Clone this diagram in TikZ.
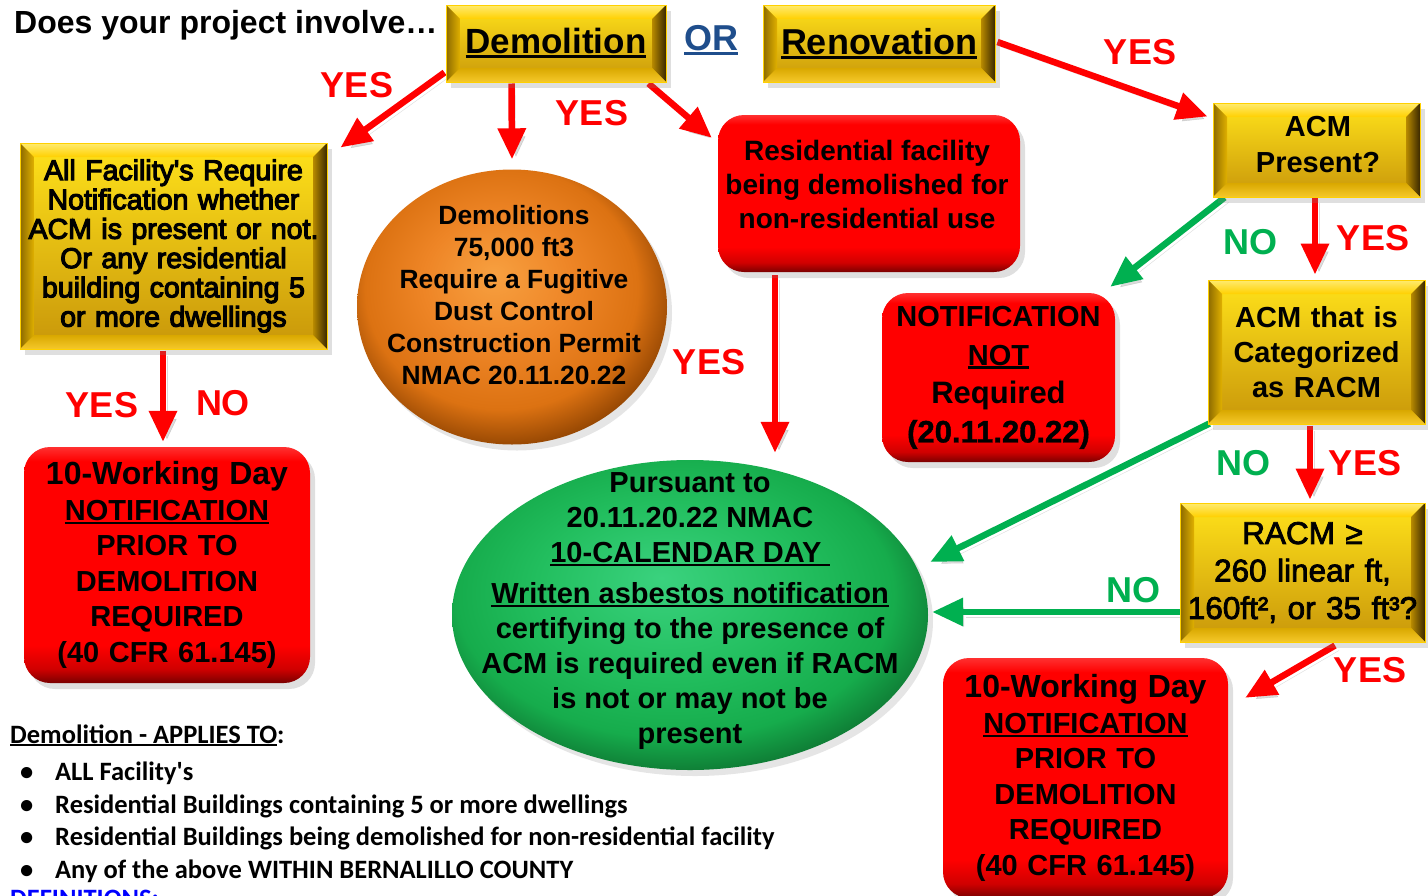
\documentclass[tikz,border=0pt]{standalone}
\usepackage{fontspec}
\setmainfont{Liberation Sans}
\newfontfamily\heavyfont{Liberation Sans}[FakeBold=2.5]
\newfontfamily\heavierfont{Liberation Sans}[FakeBold=4]
\newfontfamily\mediumfont{Liberation Sans}[FakeBold=1.2]
\newfontfamily\calib{Carlito}
\usetikzlibrary{calc,shadows,arrows.meta,shapes.geometric}
\pgfdeclarelayer{back}
\pgfdeclarelayer{bg}
\pgfsetlayers{back,bg,main}

\definecolor{arrred}{HTML}{FF0000}
\definecolor{arrgreen}{HTML}{00B050}
\definecolor{orblue}{HTML}{1F4E8C}
\definecolor{gface1}{HTML}{FFE21A}
\definecolor{gface2}{HTML}{C8960A}
\definecolor{gtop1}{HTML}{FFEB70}
\definecolor{gtop2}{HTML}{FFD000}
\definecolor{gleft1}{HTML}{8C6A00}
\definecolor{gleft2}{HTML}{E0B000}
\definecolor{gright1}{HTML}{B88A00}
\definecolor{gright2}{HTML}{3A2800}
\definecolor{gbot1}{HTML}{D9A800}
\definecolor{gbot2}{HTML}{F5C82A}
\definecolor{rdk}{HTML}{7A0000}
\definecolor{rmid}{HTML}{D00000}
\definecolor{rmain}{HTML}{FF0000}
\definecolor{rtop}{HTML}{FF3030}
\definecolor{oA}{HTML}{F7A040}
\definecolor{oB}{HTML}{EE8526}
\definecolor{oC}{HTML}{DC7212}
\definecolor{oD}{HTML}{8A4000}
\definecolor{gA}{HTML}{3AD27E}
\definecolor{gB}{HTML}{22BE5E}
\definecolor{gC}{HTML}{16AC4C}
\definecolor{gD}{HTML}{0C6A2C}

\pgfdeclareverticalshading{glossred}{100bp}{color(0bp)=(rdk); color(25bp)=(rdk); color(28bp)=(rmid); color(33bp)=(rmain); color(72bp)=(rmain); color(75bp)=(rtop); color(100bp)=(rtop)}
\pgfdeclareradialshading{orangeball}{\pgfpoint{-3bp}{6bp}}{color(0bp)=(oA); color(12bp)=(oB); color(22bp)=(oC); color(29bp)=(oD); color(50bp)=(oD)}
\pgfdeclareradialshading{greenball}{\pgfpoint{-3bp}{6bp}}{color(0bp)=(gA); color(14bp)=(gB); color(23bp)=(gC); color(30bp)=(gD); color(50bp)=(gD)}

\newcommand{\ulx}[1]{\setbox0\hbox{#1}\leavevmode\rlap{\rule[-0.13em]{\wd0}{0.09em}}\box0}

\tikzset{
  gold/.style={rectangle, inner sep=0pt, draw=gtop2, line width=1pt,
    top color=gface1, bottom color=gface2, align=center,
    drop shadow={shadow xshift=5pt, shadow yshift=-6pt, opacity=0.25},
    path picture={
      \coordinate (q1) at (path picture bounding box.north west);
      \coordinate (q2) at (path picture bounding box.north east);
      \coordinate (q3) at (path picture bounding box.south east);
      \coordinate (q4) at (path picture bounding box.south west);
      \coordinate (i1) at ([xshift=14pt,yshift=-14pt]q1);
      \coordinate (i2) at ([xshift=-14pt,yshift=-14pt]q2);
      \coordinate (i3) at ([xshift=-14pt,yshift=14pt]q3);
      \coordinate (i4) at ([xshift=14pt,yshift=14pt]q4);
      \shade[top color=gtop1, bottom color=gtop2] (q1)--(q2)--(i2)--(i1)--cycle;
      \shade[left color=gleft1, right color=gleft2] (q1)--(i1)--(i4)--(q4)--cycle;
      \shade[left color=gright1, right color=gright2] (q2)--(q3)--(i3)--(i2)--cycle;
      \shade[top color=gbot1, bottom color=gbot2] (q4)--(i4)--(i3)--(q3)--cycle;
    }},
  redbox/.style={rectangle, rounded corners=26pt, inner sep=0pt, shading=glossred, align=center,
    drop shadow={shadow xshift=5pt, shadow yshift=-6pt, opacity=0.25}},
  ball/.style={ellipse, inner sep=0pt, drop shadow={shadow xshift=5pt, shadow yshift=-6pt, opacity=0.2}},
  arr/.style={line width=6.5pt, -{Triangle[width=27pt,length=31pt]},
    preaction={draw=black!70, opacity=0.2, transform canvas={xshift=4pt,yshift=-5pt}}},
  redarr/.style={arr, draw=arrred},
  greenarr/.style={arr, draw=arrgreen},
  yes/.style={font=\fontsize{36}{40}\selectfont\bfseries, text=arrred, inner sep=0pt},
  no/.style={font=\fontsize{36}{40}\selectfont\bfseries, text=arrgreen, inner sep=0pt},
  bul/.style={anchor=base west, inner sep=0pt, font=\calib\bfseries\fontsize{26.5}{30}\selectfont},
}

\begin{document}
\begin{tikzpicture}[x=1pt,y=-1pt]
\begin{pgfonlayer}{back}
\fill[white] (0,0) rectangle (1428,895);
\end{pgfonlayer}
\useasboundingbox (0,0) rectangle (1428,895);

% title
\node[anchor=west, inner sep=0pt, font=\fontsize{32}{36}\selectfont\bfseries] (title) at (14,25) {Does your project involve…};

% top boxes
\node[gold, minimum width=220pt, minimum height=77pt, font=\fontsize{35}{40}\selectfont\bfseries] (demo) at (556,43.5) {\ulx{Demolition}};
\node[inner sep=0pt, font=\fontsize{36}{40}\selectfont\bfseries, text=orblue] (or) at (711,40) {\ulx{OR}};
\node[gold, minimum width=232pt, minimum height=77pt, font=\fontsize{36}{40}\selectfont\bfseries] (reno) at (879,43.5) {\ulx{Renovation}};

% left yellow box
\node[gold, minimum width=307pt, minimum height=206pt, text width=300pt, font=\heavierfont\fontsize{28.5}{29.3}\selectfont] (allfac) at (173.5,246)
  {All Facility{\char"27}s Require\\Notification whether\\ACM is present or not.\\Or any residential\\building containing 5\\or more dwellings};

% orange ball
\node[ball, shading=orangeball, minimum width=310pt, minimum height=275pt] (orange) at (512,307) {};
\node[align=center, inner sep=0pt, font=\fontsize{26.4}{32}\selectfont\bfseries] (orangetxt) at (514,295)
  {Demolitions\\75,000 ft3\\Require a Fugitive\\Dust Control\\Construction Permit\\NMAC 20.11.20.22};

% residential red box
\node[redbox, minimum width=302pt, minimum height=157pt] (resid) at (869,193.5) {};
\node[align=center, inner sep=0pt, font=\fontsize{28}{34}\selectfont\bfseries] (residtxt) at (867,184)
  {Residential facility\\being demolished for\\non-residential use};

% ACM present
\node[gold, minimum width=207pt, minimum height=94pt] (acm) at (1316.5,150) {};
\node[align=center, inner sep=0pt, font=\fontsize{29}{36}\selectfont\bfseries] (acmtxt) at (1318,145) {ACM\\Present?};

% notification not required
\node[redbox, minimum width=233pt, minimum height=169pt, text width=230pt, font=\fontsize{29}{38.7}\selectfont\bfseries] (notnot) at (998.5,377.5)
  {NOTIFICATION\\\ulx{NOT}\\{\fontsize{31}{38.7}\selectfont Required}\\{\mediumfont\fontsize{31}{38.7}\selectfont(20.11.20.22)}};

% ACM categorized as RACM
\node[gold, minimum width=217pt, minimum height=144pt, text width=210pt, font=\fontsize{29}{35}\selectfont\bfseries] (racmq) at (1316.5,352)
  {ACM that is\\Categorized\\as RACM};

% RACM threshold
\node[gold, minimum width=245pt, minimum height=139pt, text width=240pt, font=\heavyfont\fontsize{31.5}{37.5}\selectfont] (racm) at (1302.5,572.5)
  {RACM ≥\\260 linear ft,\\160ft², or 35 ft³?};

% green ellipse
\node[ball, shading=greenball, minimum width=476pt, minimum height=310pt] (green) at (690,615) {};
\node[align=center, inner sep=0pt, font=\fontsize{29}{35}\selectfont\bfseries] (greentxt) at (690,611)
  {Pursuant to\\20.11.20.22 NMAC\\\ulx{10-CALENDAR DAY }\\[6pt]\ulx{Written asbestos notification}\\certifying to the presence of\\ACM is required even if RACM\\is not or may not be\\present};

% left red box
\node[redbox, minimum width=286pt, minimum height=236pt, text width=280pt, font=\fontsize{29}{35.5}\selectfont\bfseries] (leftred) at (167,565)
  {{\fontsize{32}{35.5}\selectfont 10-Working Day}\\\ulx{NOTIFICATION}\\PRIOR TO\\DEMOLITION\\REQUIRED\\(40 CFR 61.145)};

% right red box
\node[redbox, minimum width=285pt, minimum height=240pt, text width=280pt, font=\fontsize{29}{35.5}\selectfont\bfseries] (rightred) at (1085.5,778)
  {{\fontsize{32}{35.5}\selectfont 10-Working Day}\\\ulx{NOTIFICATION}\\PRIOR TO\\DEMOLITION\\REQUIRED\\(40 CFR 61.145)};

% connectors
\begin{pgfonlayer}{bg}
\draw[redarr] ($(demo.south west)+(-1,-10)$) -- ($(allfac.north east)+(13,5)$);
\draw[redarr] ($(demo.south west)+(66,1)$) -- ($(orange.north)+(0,-10)$);
\draw[redarr] ($(demo.south east)+(-18,1)$) -- ($(resid.north west)+(-6,23)$);
\draw[redarr] ($(reno.east)+(2,-1.5)$) -- ($(acm.north west)+(-5,14)$);
\draw[greenarr] ($(acm.south west)+(12,0)$) -- ($(notnot.north east)+(-5,-6)$);
\draw[redarr] ($(acm.south)+(-1.5,0)$) -- ($(racmq.north)+(-1.5,-5)$);
\draw[redarr] ($(allfac.south)+(-10.5,1)$) -- ($(leftred.north)+(-4,-5)$);
\draw[redarr] ($(resid.south)+(-94,3)$) -- ($(green.north)+(85,-7)$);
\draw[greenarr] ($(racmq.south west)+(2,-1)$) -- ($(green.east)+(2,-53)$);
\draw[redarr] ($(racmq.south)+(-6.5,1)$) -- ($(racm.north)+(7.5,-3)$);
\draw[greenarr] ($(racm.west)+(0,39.5)$) -- ($(green.east)+(4,-3)$);
\draw[redarr] ($(racm.south)+(32.5,3)$) -- ($(rightred.north east)+(17,40)$);
\end{pgfonlayer}

% labels
\node[yes] (l1) at (357,85) {YES};
\node[yes] (l2) at (592,113) {YES};
\node[yes] (l3) at (1140,52) {YES};
\node[no] (l4) at (1250,242) {NO};
\node[yes] (l5) at (1373,238) {YES};
\node[yes] (l6) at (102,405) {YES};
\node[yes] (l7) at (223,403) {NO};
\node[yes] (l8) at (709,362) {YES};
\node[no] (l9) at (1243,463) {NO};
\node[yes] (l10) at (1365,463) {YES};
\node[no] (l11) at (1133,590) {NO};
\node[yes] (l12) at (1370,670) {YES};

% bottom text
\node[bul] (applies) at (10,743) {\ulx{Demolition - APPLIES TO}:};
\node[bul] (b1) at (20,780.5) {\makebox[35pt][l]{•}ALL Facility{\char"27}s};
\node[bul] (b2) at (20,813) {\makebox[35pt][l]{•}Residential Buildings containing 5 or more dwellings};
\node[bul] (b3) at (20,845.5) {\makebox[35pt][l]{•}Residential Buildings being demolished for non-residential facility};
\node[bul] (b4) at (20,878) {\makebox[35pt][l]{•}Any of the above WITHIN BERNALILLO COUNTY};
\node[bul, text=blue] (defs) at (10,907) {\ulx{DEFINITIONS}:};
\end{tikzpicture}
\end{document}
